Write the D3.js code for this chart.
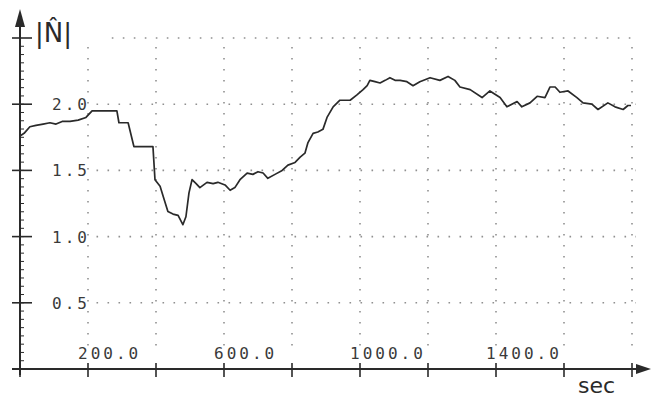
<!DOCTYPE html>
<html>
<head>
<meta charset="utf-8">
<script src="https://cdn.jsdelivr.net/npm/d3@7"></script>
<style>
  body { margin: 0; background: #fff; }
  svg { display: block; }
</style>
</head>
<body>
<svg id="chart"></svg>
<script>
// Time (sec) of each traced point
const times = [0, 12, 29, 47, 68, 88, 106, 124, 147, 171, 194, 212, 250, 285, 291, 318, 335, 368, 391,
  397, 412, 424, 435, 450, 465, 479, 488, 497, 506, 518,
  529, 550, 568, 582, 603, 618, 632, 647, 668, 685, 700, 715, 729, 750, 771, 788, 809, 824, 838, 847,
  862, 876, 891, 903, 921, 941, 971, 991, 1009, 1021, 1029, 1044, 1059, 1074, 1088, 1103, 1118, 1138,
  1156, 1176, 1206, 1235, 1259, 1279, 1294, 1324, 1359, 1382, 1412, 1432, 1462, 1476, 1500, 1521,
  1544, 1559, 1574, 1588, 1612, 1638, 1656, 1682, 1700, 1729, 1750, 1774, 1788, 1797];
// |N| value at each of those times
const nValues = [1.76, 1.78, 1.83, 1.84, 1.85, 1.86, 1.85, 1.87, 1.87, 1.88, 1.90, 1.95, 1.95, 1.95, 1.86, 1.86, 1.68, 1.68, 1.68,
  1.43, 1.38, 1.28, 1.19, 1.17, 1.16, 1.09, 1.15, 1.33, 1.43, 1.40,
  1.37, 1.41, 1.40, 1.41, 1.39, 1.35, 1.37, 1.43, 1.48, 1.47, 1.49, 1.48, 1.44, 1.47, 1.50, 1.54, 1.56, 1.60, 1.63, 1.71,
  1.78, 1.79, 1.81, 1.90, 1.98, 2.03, 2.03, 2.07, 2.11, 2.14, 2.18, 2.17, 2.16, 2.18, 2.20, 2.18, 2.18, 2.17,
  2.14, 2.17, 2.20, 2.18, 2.21, 2.18, 2.13, 2.11, 2.05, 2.10, 2.05, 1.98, 2.02, 1.98, 2.01, 2.06,
  2.05, 2.13, 2.13, 2.09, 2.10, 2.05, 2.01, 2.00, 1.96, 2.01, 1.98, 1.96, 1.99, 1.99];

const yTicks = [0.5, 1.0, 1.5, 2.0, 2.5];
const yLabels = ["0.5", "1.0", "1.5", "2.0"];
const xTicks = [200, 400, 600, 800, 1000, 1200, 1400, 1600, 1800];
const xLabels = [200, 600, 1000, 1400];

const width = 651, height = 400;
const svg = d3.select("#chart").attr("width", width).attr("height", height);

// Scales: origin at (20, 369)
const x = d3.scaleLinear().domain([0, 1800]).range([20, 632]);
const y = d3.scaleLinear().domain([0, 2.5]).range([369, 38]);

const ink = "#2a2a2a";
const monoFont = "'DejaVu Sans Mono', monospace";

// Dotted grid
const grid = svg.append("g").attr("stroke", "#909090").attr("stroke-width", 1.6)
  .attr("stroke-dasharray", "1.6,9.4");
grid.selectAll("line.h").data(yTicks).enter().append("line")
  .attr("class", "h")
  .attr("x1", d => d === 2.5 ? x(270) : x(225)).attr("x2", x(1800) + 4)
  .attr("y1", d => y(d)).attr("y2", d => y(d));
grid.selectAll("line.v").data(xTicks).enter().append("line")
  .attr("class", "v")
  .attr("x1", d => x(d)).attr("x2", d => x(d))
  .attr("y1", y(2.5) + 9).attr("y2", y(0) - 14);

// Y axis with arrow
svg.append("line").attr("x1", x(0)).attr("x2", x(0)).attr("y1", y(0) + 6).attr("y2", 22)
  .attr("stroke", ink).attr("stroke-width", 2);
svg.append("path").attr("d", `M${x(0)},9 L${x(0) - 5},27 L${x(0) + 5},27 Z`).attr("fill", ink);

// Y minor ticks
const minor = d3.range(0.0625, 2.5, 0.0625);
svg.selectAll("line.ymin").data(minor).enter().append("line")
  .attr("class", "ymin")
  .attr("x1", x(0)).attr("x2", x(0) + 4)
  .attr("y1", d => y(d)).attr("y2", d => y(d))
  .attr("stroke", ink).attr("stroke-width", 1);

// Y major ticks
svg.selectAll("line.ymaj").data(yTicks).enter().append("line")
  .attr("class", "ymaj")
  .attr("x1", x(0) - 8).attr("x2", x(0) + 12)
  .attr("y1", d => y(d)).attr("y2", d => y(d))
  .attr("stroke", ink).attr("stroke-width", 1.6);

// Y tick labels
svg.selectAll("text.ylab").data(yLabels).enter().append("text")
  .attr("class", "ylab")
  .attr("x", 90).attr("y", d => y(+d) + 6)
  .attr("text-anchor", "end")
  .attr("font-family", monoFont).attr("font-size", 16)
  .attr("letter-spacing", 3)
  .attr("fill", "#3a3a3a")
  .text(d => d);

// Y axis title
svg.append("text").attr("x", 35).attr("y", 42)
  .attr("font-family", "'DejaVu Sans', sans-serif").attr("font-size", 26)
  .attr("fill", ink).text("|N\u0302|");

// X axis with arrow
svg.append("line").attr("x1", x(0) - 8).attr("x2", 640).attr("y1", y(0)).attr("y2", y(0))
  .attr("stroke", ink).attr("stroke-width", 2);
svg.append("path").attr("d", `M651,${y(0)} L636,${y(0) - 5} L636,${y(0) + 5} Z`).attr("fill", ink);

svg.selectAll("line.xmaj").data([0].concat(xTicks)).enter().append("line")
  .attr("class", "xmaj")
  .attr("x1", d => x(d)).attr("x2", d => x(d))
  .attr("y1", y(0) - 6).attr("y2", y(0) + 8)
  .attr("stroke", ink).attr("stroke-width", 1.6);

// X tick labels
svg.selectAll("text.xlab").data(xLabels).enter().append("text")
  .attr("class", "xlab")
  .attr("x", d => x(d) - 10).attr("y", 359)
  .attr("text-anchor", "start")
  .attr("font-family", monoFont).attr("font-size", 16)
  .attr("letter-spacing", 3)
  .attr("fill", "#3a3a3a")
  .text(d => d.toFixed(1));

// X axis title
svg.append("text").attr("x", 578).attr("y", 393)
  .attr("font-family", "'DejaVu Sans', sans-serif").attr("font-size", 22)
  .attr("fill", ink).text("sec");

// Data curve
const pts = times.map((t, i) => [t, nValues[i]]);
const line = d3.line().x(d => x(d[0])).y(d => y(d[1]));
svg.append("path").datum(pts)
  .attr("d", line)
  .attr("fill", "none")
  .attr("stroke", ink).attr("stroke-width", 1.7)
  .attr("stroke-linejoin", "round");
</script>
</body>
</html>
